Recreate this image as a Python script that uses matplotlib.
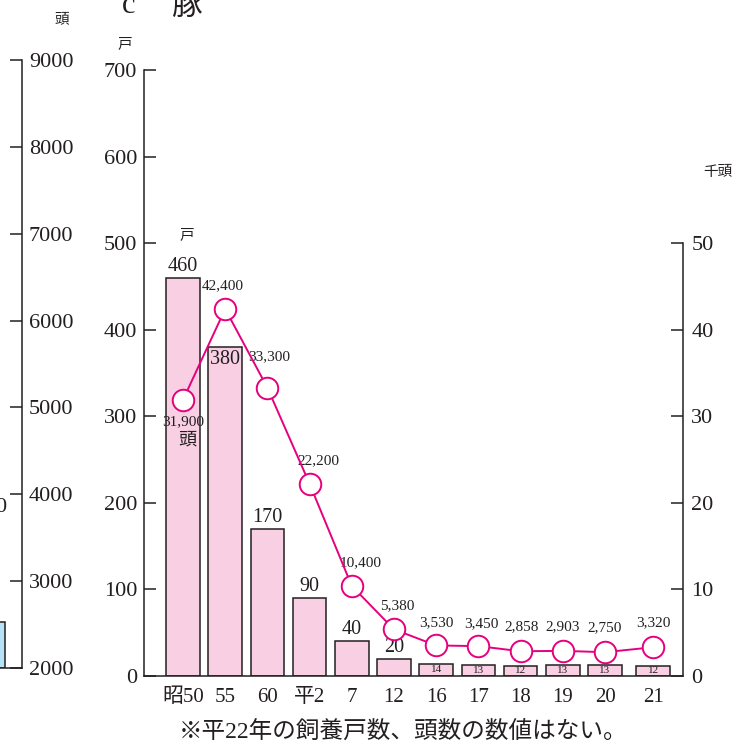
import matplotlib
matplotlib.use("Agg")
import matplotlib.pyplot as plt

plt.rcParams['font.family'] = ['Liberation Serif', 'Noto Sans CJK JP']

# data
years = ['昭50', '55', '60', '平2', '7', '12', '16', '17', '18', '19', '20', '21']
households = [460, 380, 170, 90, 40, 20, 14, 13, 12, 13, 13, 12]
heads = [31900, 42400, 33300, 22200, 10400, 5380, 3530, 3450, 2858, 2903, 2750, 3320]
left_panel_bar = [2530]   # partially visible bar of the neighbouring chart

W, H = 753, 749
INK = '#231f20'
PINK = '#f8cfe3'
MAGENTA = '#e6007e'
BLUE = '#b5e2f7'

def fx(px):
    return px / W

def fy(py):
    return 1 - py / H

fig = plt.figure(figsize=(W / 100, H / 100), dpi=100)

# x positions: gap before 21 because 平22 has no data
xpos = list(range(len(years) - 1)) + [len(years) - 1 + 0.14]

# ---- neighbouring (cut off) chart on the left ----
axL = fig.add_axes([0, fy(668), fx(22), fy(60) - fy(668)])
axL.set_ylim(2000, 9000)
axL.set_xlim(0, 1)
axL.bar([-0.4], [v - 2000 for v in left_panel_bar], bottom=2000, width=1.26,
        color=BLUE, edgecolor=INK, linewidth=1.1, align='center')
for s in ['left', 'top']:
    axL.spines[s].set_visible(False)
for s in ['right', 'bottom']:
    axL.spines[s].set_linewidth(1.1)
    axL.spines[s].set_color(INK)
axL.yaxis.tick_right()
axL.set_yticks(range(2000, 9001, 1000))
axL.tick_params(axis='y', direction='in', length=8.6, width=1.1, pad=5,
                labelsize=16, colors=INK)
axL.set_xticks([])
axL.patch.set_visible(False)
fig.text(fx(62), fy(20), '頭', ha='center', va='center', fontsize=10.5, color=INK)
fig.text(fx(6), fy(508), '0', ha='right', va='center', fontsize=16, color=INK)

# ---- main chart ----
ax = fig.add_axes([fx(144), fy(676), fx(683) - fx(144), fy(70) - fy(676)])
ax.set_ylim(0, 700)
ax.set_xlim(-(183 - 144) / 42.2, (683 - 183) / 42.2)

ax.bar(xpos, households, width=0.8, color=PINK, edgecolor=INK, linewidth=1.1,
       zorder=2)

for i, v in enumerate(households):
    if v == 380:
        ax.annotate(str(v), (xpos[i], v), xytext=(0, -2), textcoords='offset points',
                    ha='center', va='top', fontsize=14.5, color=INK)
    elif v < 15:
        ax.text(xpos[i], v / 2, str(v), ha='center', va='center', fontsize=8,
                color=INK, zorder=3)
    else:
        ax.annotate(str(v), (xpos[i], v), xytext=(0, 1.5), textcoords='offset points',
                    ha='center', va='bottom', fontsize=14.5, color=INK)

for s in ['top', 'right']:
    ax.spines[s].set_visible(False)
for s in ['left', 'bottom']:
    ax.spines[s].set_linewidth(1.1)
    ax.spines[s].set_color(INK)
ax.set_yticks(range(0, 701, 100))
ax.tick_params(axis='y', direction='in', length=8.6, width=1.1, pad=5,
               labelsize=16, colors=INK)
ax.set_xticks(xpos)
ax.set_xticklabels(years)
ax.tick_params(axis='x', length=0, pad=9, labelsize=15, colors=INK)
ax.patch.set_visible(False)

# ---- line (thousand head) ----
ax2 = ax.twinx()
ax2.set_ylim(0, 70)
for s in ['top', 'left', 'bottom']:
    ax2.spines[s].set_visible(False)
ax2.spines['right'].set_bounds(0, 50)
ax2.spines['right'].set_linewidth(1.1)
ax2.spines['right'].set_color(INK)
ax2.set_yticks(range(0, 51, 10))
ax2.tick_params(axis='y', direction='in', length=8.6, width=1.1, pad=6,
                labelsize=16, colors=INK)

ax2.plot(xpos, [h / 1000 for h in heads], color=MAGENTA, lw=1.4, marker='o',
         ms=15.5, mfc='white', mec=MAGENTA, mew=1.4, zorder=5, clip_on=False)

offsets = [(0, -16), (-1.5, 17), (1.5, 22), (6.5, 17), (6.5, 16.5), (2, 17),
           (0, 16.5), (2, 16), (1, 18), (0, 17.5), (0, 18), (0, 17.5)]
for i, h in enumerate(heads):
    ax2.annotate(f'{h:,}', (xpos[i], h / 1000), xytext=offsets[i],
                 textcoords='offset points', ha='center', va='center',
                 fontsize=11, color=INK)

# units and notes
fig.text(fx(125), fy(45), '戸', ha='center', va='center', fontsize=10.5, color=INK)
fig.text(fx(187), fy(236), '戸', ha='center', va='center', fontsize=10.5, color=INK)
fig.text(fx(718), fy(172), '千頭', ha='center', va='center', fontsize=10.5, color=INK)
fig.text(fx(187), fy(440), '頭', ha='center', va='center', fontsize=13, color=INK)
fig.text(fx(122), fy(13), 'c', ha='left', va='baseline', fontsize=22, color=INK)
fig.text(fx(172), fy(15), '豚', ha='left', va='baseline', fontsize=22, color=INK)
fig.text(fx(403), fy(733), '※平22年の飼養戸数、頭数の数値はない。', ha='center',
         va='center', fontsize=17, color=INK)

fig.savefig('out.png', dpi=100)
